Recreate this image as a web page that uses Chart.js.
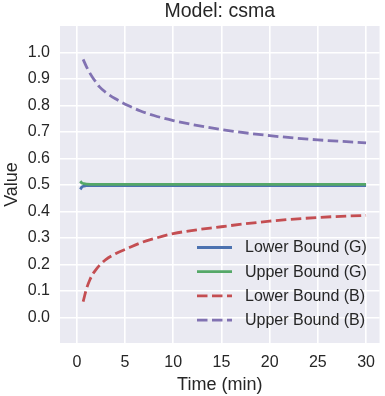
<!DOCTYPE html>
<html>
<head>
<meta charset="utf-8">
<script src="https://cdn.jsdelivr.net/npm/chart.js@4.4.0/dist/chart.umd.min.js"></script>
<style>
  html, body { margin: 0; padding: 0; background: #fff; }
  #wrap { width: 385px; height: 396px; position: relative; }
</style>
</head>
<body>
<div id="wrap"><canvas id="chart"></canvas></div>
<script>
// values
const timeG = [0.35, 0.5, 0.7, 1.0, 2.0, 30];
const lowerG = [0.483, 0.491, 0.495, 0.497, 0.497, 0.497];
const upperG = [0.514, 0.508, 0.505, 0.503, 0.502, 0.502];

const timeB = [0.65, 1.0, 1.35, 1.7, 2.0, 2.35, 3.0, 4.0, 5.25, 6.6, 8, 10, 15, 20, 25, 30];
const lowerB = [0.059, 0.108, 0.142, 0.166, 0.181, 0.196, 0.218, 0.240, 0.260, 0.281, 0.297, 0.316, 0.342, 0.363, 0.377, 0.385];
const upperB = [0.974, 0.946, 0.922, 0.902, 0.887, 0.870, 0.849, 0.825, 0.801, 0.779, 0.762, 0.743, 0.709, 0.686, 0.670, 0.659];

const seriesNames = ['Lower Bound (G)', 'Upper Bound (G)', 'Lower Bound (B)', 'Upper Bound (B)'];
const xTicks = [0, 5, 10, 15, 20, 25, 30];
const yTicks = [0.0, 0.1, 0.2, 0.3, 0.4, 0.5, 0.6, 0.7, 0.8, 0.9, 1.0];

const textColor = '#262626';
const fontFamily = '"Liberation Sans", Arial, sans-serif';

function toPoints(xs, ys) {
    return xs.map((x, i) => ({ x: x, y: ys[i] }));
}

// grey plot background, like seaborn darkgrid
const backgroundPlugin = {
    id: 'plotBackground',
    beforeDraw(chart) {
        const { ctx, chartArea } = chart;
        ctx.save();
        ctx.fillStyle = '#EAEAF2';
        ctx.fillRect(chartArea.left, chartArea.top, chartArea.right - chartArea.left, chartArea.bottom - chartArea.top);
        ctx.restore();
    }
};

// title, axis titles and the in-plot legend
const textPlugin = {
    id: 'texts',
    afterDraw(chart) {
        const { ctx, chartArea } = chart;
        const midX = (chartArea.left + chartArea.right) / 2;
        const midY = (chartArea.top + chartArea.bottom) / 2;
        ctx.save();
        ctx.fillStyle = textColor;
        ctx.textAlign = 'center';
        ctx.textBaseline = 'alphabetic';

        ctx.font = '19.5px ' + fontFamily;
        ctx.fillText('Model: csma', midX, 16.7);

        ctx.font = '18px ' + fontFamily;
        ctx.fillText('Time (min)', midX, 389.5);

        ctx.save();
        ctx.translate(16.5, midY);
        ctx.rotate(-Math.PI / 2);
        ctx.fillText('Value', 0, 0);
        ctx.restore();

        // legend, lower right inside the axes
        ctx.font = '16px ' + fontFamily;
        ctx.textAlign = 'left';
        ctx.textBaseline = 'middle';
        chart.data.datasets.forEach((ds, i) => {
            const y = 247.5 + i * 24.2;
            ctx.save();
            ctx.strokeStyle = ds.borderColor;
            ctx.lineWidth = ds.borderWidth;
            ctx.setLineDash(ds.borderDash || []);
            ctx.beginPath();
            ctx.moveTo(197, y);
            ctx.lineTo(232, y);
            ctx.stroke();
            ctx.restore();
            ctx.fillText(ds.label, 245, y + 0.5);
        });
        ctx.restore();
    }
};

const ctx = document.getElementById('chart').getContext('2d');
const chart = new Chart(ctx, {
    type: 'line',
    data: {
        datasets: [
            {
                label: seriesNames[0],
                data: toPoints(timeG, lowerG),
                borderColor: '#4C72B0',
                borderWidth: 2.8,
                order: 4
            },
            {
                label: seriesNames[1],
                data: toPoints(timeG, upperG),
                borderColor: '#55A868',
                borderWidth: 2.8,
                order: 3
            },
            {
                label: seriesNames[2],
                data: toPoints(timeB, lowerB),
                borderColor: '#C44E52',
                borderWidth: 2.8,
                borderDash: [10.5, 4.5],
                order: 2
            },
            {
                label: seriesNames[3],
                data: toPoints(timeB, upperB),
                borderColor: '#8172B2',
                borderWidth: 2.8,
                borderDash: [10.5, 4.5],
                order: 1
            }
        ]
    },
    options: {
        responsive: true,
        maintainAspectRatio: false,
        animation: false,
        layout: { padding: { top: 26, right: 1, left: 0, bottom: 0 } },
        elements: {
            point: { radius: 0 },
            line: { cubicInterpolationMode: 'monotone', fill: false, borderCapStyle: 'butt' }
        },
        plugins: {
            legend: { display: false },
            title: { display: false },
            tooltip: { enabled: false }
        },
        scales: {
            x: {
                type: 'linear',
                min: -1.75,
                max: 31.4,
                afterBuildTicks: (scale) => { scale.ticks = xTicks.map(v => ({ value: v })); },
                afterFit: (scale) => { scale.height = 53; },
                ticks: {
                    color: textColor,
                    padding: 10,
                    maxRotation: 0,
                    font: { family: fontFamily, size: 16 },
                    callback: (v) => String(v)
                },
                grid: { color: '#ffffff', lineWidth: 1.6, drawTicks: false },
                border: { display: false }
            },
            y: {
                type: 'linear',
                min: -0.097,
                max: 1.1,
                afterBuildTicks: (scale) => { scale.ticks = yTicks.map(v => ({ value: v })); },
                afterFit: (scale) => { scale.width = 60; },
                ticks: {
                    color: textColor,
                    padding: 10,
                    font: { family: fontFamily, size: 16 },
                    callback: (v) => Number(v).toFixed(1)
                },
                grid: { color: '#ffffff', lineWidth: 1.6, drawTicks: false },
                border: { display: false }
            }
        }
    },
    plugins: [backgroundPlugin, textPlugin]
});
</script>
</body>
</html>
